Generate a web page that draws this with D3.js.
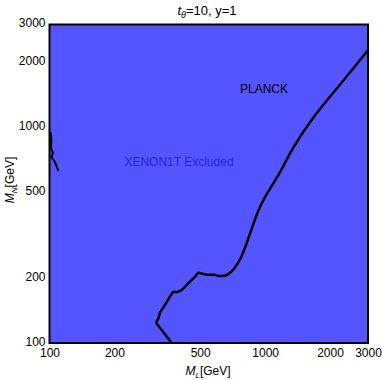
<!DOCTYPE html>
<html><head><meta charset="utf-8">
<script src="https://cdn.jsdelivr.net/npm/d3@7"></script>
<style>body{margin:0;background:#fff}svg{display:block;font-family:"Liberation Sans",Arial,sans-serif}</style>
</head><body><svg id="c" width="382" height="380"></svg>
<script>
const xTicks = [100, 200, 500, 1000, 2000, 3000];
const yTicks = [100, 200, 500, 1000, 2000, 3000];
const planckML = [369, 312, 320, 325, 343, 362, 375, 389, 410, 440, 473, 490, 517, 545, 586, 629, 675, 725, 779, 821, 867, 930, 999, 1091, 1194, 1328, 1673, 2000, 2389, 3000];
const planckMN = [100, 124, 130, 138, 150, 164, 173, 172, 176, 189, 203, 212, 209, 207, 207, 203, 207, 222, 251, 290, 340, 414, 477, 550, 635, 794, 1121, 1388, 1719, 2285];
const xenonML = [101, 102, 101.6, 103.8, 102, 106, 110];
const xenonMN = [952, 874, 802, 761, 729, 691, 628];

const svg = d3.select("#c");
const L = 49.5, R = 368, T = 24.5, B = 343;
const x = d3.scaleLog().domain([100, 3000]).range([L, R]);
const y = d3.scaleLog().domain([100, 3000]).range([B, T]);

svg.append("rect").attr("x", L).attr("y", T).attr("width", R - L).attr("height", B - T).attr("fill", "#5555ff");

const planck = planckML.map((v, i) => [v, planckMN[i]]);
const split = 14;
const lower = planck.slice(0, split + 1), upper = planck.slice(split);
svg.append("path").datum(lower)
  .attr("d", d3.line().x(d => x(d[0])).y(d => y(d[1])))
  .attr("fill", "none").attr("stroke", "#000").attr("stroke-width", 2.5).attr("stroke-linejoin", "round");
svg.append("path").datum(upper)
  .attr("d", d3.line().x(d => x(d[0])).y(d => y(d[1])).curve(d3.curveBasis))
  .attr("fill", "none").attr("stroke", "#000").attr("stroke-width", 2.5).attr("stroke-linejoin", "round");
const xen = xenonML.map((v, i) => [v, xenonMN[i]]);
svg.append("path").datum(xen).attr("d", d3.line().x(d => x(d[0])).y(d => y(d[1])))
  .attr("fill", "none").attr("stroke", "#000").attr("stroke-width", 2);

svg.append("rect").attr("x", L).attr("y", T).attr("width", R - L).attr("height", B - T)
  .attr("fill", "none").attr("stroke", "#000").attr("stroke-width", 2);

const xAxis = d3.axisBottom(x).tickValues(xTicks).tickFormat(d3.format("d")).tickSize(0).tickPadding(5);
const gx = svg.append("g").attr("transform", `translate(0,${B})`).call(xAxis);
const yAxis = d3.axisLeft(y).tickValues(yTicks).tickFormat(d3.format("d")).tickSize(0).tickPadding(4);
const gy = svg.append("g").attr("transform", `translate(${L},0)`).call(yAxis);
[gx, gy].forEach(g => {
  g.select(".domain").remove();
  g.selectAll("text").attr("font-size", 12).attr("fill", "#000").attr("font-family", "Liberation Sans, Arial, sans-serif");
});
gy.selectAll("text").attr("dy", "0.2em");

const t = svg.append("text").attr("x", 207).attr("y", 15).attr("text-anchor", "middle").attr("font-size", 13);
t.append("tspan").attr("font-style", "italic").text("t");
t.append("tspan").attr("font-style", "italic").attr("font-size", 9).attr("dy", 3).text("θ");
t.append("tspan").attr("dy", -3).text("=10, y=1");

const xl = svg.append("text").attr("x", 208).attr("y", 375).attr("text-anchor", "middle").attr("font-size", 12);
xl.append("tspan").attr("font-style", "italic").text("M");
xl.append("tspan").attr("font-style", "italic").attr("font-size", 8).attr("dy", 3).text("L");
xl.append("tspan").attr("dy", -3).text("[GeV]");

const yl = svg.append("text").attr("transform", "translate(14,180) rotate(-90)").attr("text-anchor", "middle").attr("font-size", 12);
yl.append("tspan").attr("font-style", "italic").text("M");
yl.append("tspan").attr("font-style", "italic").attr("font-size", 8).attr("dy", 3).text("N");
yl.append("tspan").attr("dy", -3).text("[GeV]");

svg.append("text").attr("x", 264).attr("y", 93).attr("text-anchor", "middle").attr("font-size", 12).attr("fill", "#000").text("PLANCK");
svg.append("text").attr("x", 179).attr("y", 166).attr("text-anchor", "middle").attr("font-size", 12).attr("fill", "#2323e6").text("XENON1T Excluded");
</script></body></html>
